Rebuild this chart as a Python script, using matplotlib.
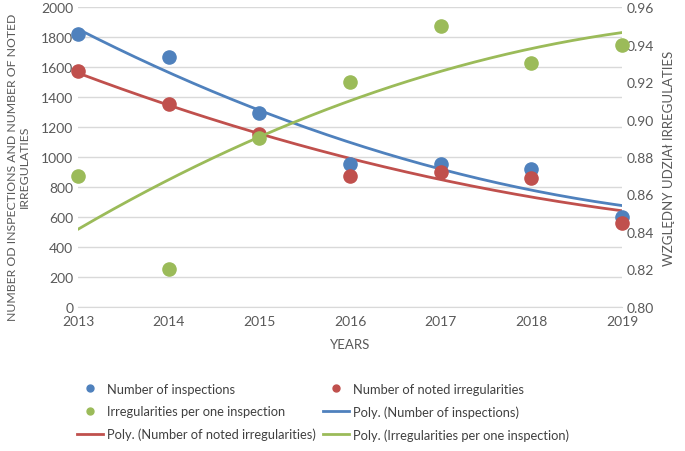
import numpy as np
import matplotlib.pyplot as plt
from matplotlib.lines import Line2D

years = [2013, 2014, 2015, 2016, 2017, 2018, 2019]
inspections = [1820, 1665, 1295, 950, 950, 920, 600]
irregularities = [1575, 1355, 1155, 870, 900, 860, 560]
per_inspection = [0.87, 0.82, 0.89, 0.92, 0.95, 0.93, 0.94]

blue = '#4F81BD'
red = '#C0504D'
green = '#9BBB59'
txt = '#595959'

plt.rcParams['font.family'] = ['Lato', 'DejaVu Sans']

fig = plt.figure(figsize=(6.85, 4.52), dpi=100)
ax1 = fig.add_axes([0.114, 0.319, 0.794, 0.663])
ax2 = ax1.twinx()

# polynomial (order 2) trend lines, like Excel
x = np.array(years, dtype=float)
xs = np.linspace(x.min(), x.max(), 200)
def poly(y):
    c = np.polyfit(x - 2013, y, 2)
    return np.polyval(c, xs - 2013)

ax1.plot(xs, poly(inspections), color=blue, lw=2, zorder=3)
ax1.plot(xs, poly(irregularities), color=red, lw=2, zorder=3)
ax2.plot(xs, poly(per_inspection), color=green, lw=2, zorder=3)

ax1.scatter(years, inspections, s=90, color=blue, zorder=4, clip_on=False)
ax1.scatter(years, irregularities, s=90, color=red, zorder=4, clip_on=False)
ax2.scatter(years, per_inspection, s=90, color=green, zorder=4, clip_on=False)

ax1.set_xlim(2013, 2019)
ax1.set_ylim(0, 2000)
ax2.set_ylim(0.80, 0.96)
ax1.set_yticks(range(0, 2001, 200))
ax2.set_yticks(np.arange(0.80, 0.961, 0.02))
ax2.set_yticklabels(['%.2f' % v for v in np.arange(0.80, 0.961, 0.02)])
ax1.set_xticks(years)

ax1.grid(axis='y', color='#d9d9d9', lw=1)
ax1.set_axisbelow(True)
for a in (ax1, ax2):
    for s in a.spines.values():
        s.set_visible(False)
    a.tick_params(length=0, labelsize=10, colors=txt)
ax1.spines['bottom'].set_visible(True)
ax1.spines['bottom'].set_color('#d9d9d9')
ax1.tick_params(axis='x', pad=6)

ax1.set_xlabel('YEARS', fontsize=9.5, color=txt, labelpad=8)
ax1.set_ylabel('NUMBER OD INSPECTIONS AND NUMBER OF NOTED\nIRREGULATIES',
               fontsize=8.8, color=txt, labelpad=4, linespacing=1.1)
ax1.yaxis.set_label_coords(-0.088, 0.47)
ax2.set_ylabel('WZGLĘDNY UDZIAł IRREGULATIES', fontsize=9.5, color=txt, labelpad=6)

def dot(c):
    return Line2D([], [], marker='o', ls='none', color=c, markersize=5)
def line(c):
    return Line2D([], [], color=c, lw=2)

handles = [dot(blue), dot(green), line(red), dot(red), line(blue), line(green)]
labels = ['Number of inspections', 'Irregularities per one inspection',
          'Poly. (Number of noted irregularities)',
          'Number of noted irregularities', 'Poly. (Number of inspections)',
          'Poly. (Irregularities per one inspection)']
fig.legend(handles, labels, ncol=2, loc='upper left', bbox_to_anchor=(0.105, 0.162),
           frameon=False, fontsize=9.3, labelcolor='#404040', handlelength=2.0,
           handletextpad=0.3, columnspacing=0.6, labelspacing=0.8,
           borderaxespad=0)

fig.savefig('out.png', dpi=100)
